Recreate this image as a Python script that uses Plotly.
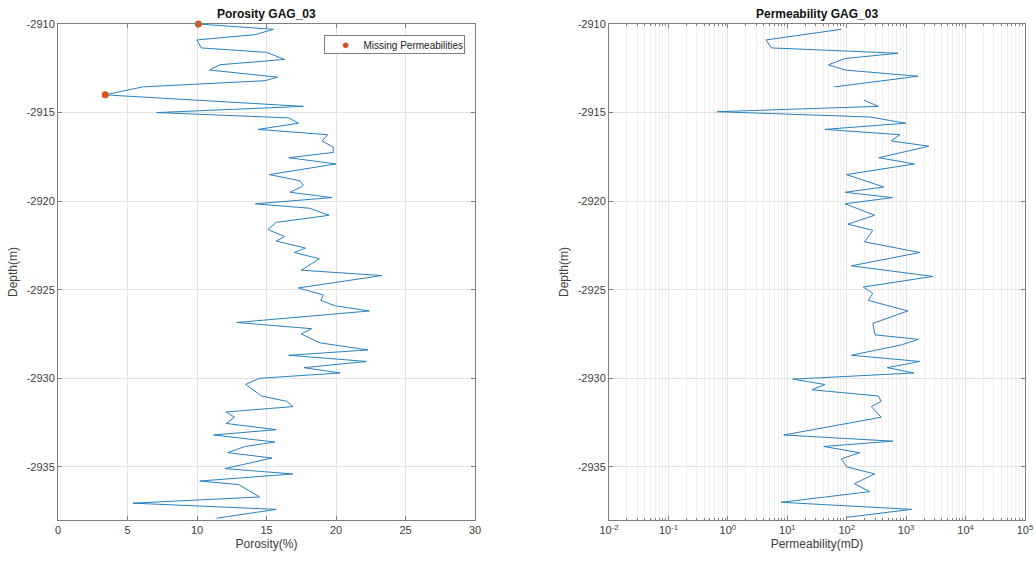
import plotly.graph_objects as go

# Porosity log (depth in m, porosity in %)
por_depth = [-2910.0, -2910.3, -2910.6, -2910.9, -2911.35, -2911.6, -2912.0, -2912.3, -2912.6,
             -2913.0, -2913.2, -2913.55, -2914.0, -2914.65, -2915.0, -2915.3, -2915.6, -2915.95,
             -2916.25, -2916.6, -2916.95, -2917.25, -2917.55, -2917.9, -2918.5, -2918.85, -2919.1,
             -2919.2, -2919.5, -2919.8, -2920.15, -2920.4, -2920.8, -2921.2, -2921.6, -2922.0,
             -2922.25, -2922.65, -2922.9, -2923.25, -2923.9, -2924.2, -2924.9, -2925.3, -2925.6,
             -2925.9, -2926.2, -2926.85, -2927.2, -2927.5, -2928.0, -2928.4, -2928.7, -2929.05,
             -2929.4, -2929.7, -2930.0, -2930.35, -2931.0, -2931.3, -2931.6, -2931.9, -2932.2,
             -2932.55, -2932.9, -2933.2, -2933.6, -2933.85, -2934.2, -2934.5, -2935.1, -2935.4,
             -2935.8, -2936.0, -2936.7, -2937.05, -2937.4, -2937.9]
porosity = [10.1, 15.5, 14.2, 10.0, 10.3, 15.0, 16.3, 11.65, 10.9,
            15.8, 14.9, 6.1, 3.4, 17.65, 7.1, 16.6, 17.3, 14.4,
            19.4, 19.0, 19.8, 19.8, 16.6, 20.0, 15.2, 17.4, 17.65,
            17.5, 16.7, 19.7, 14.2, 18.1, 19.5, 15.7, 15.1, 16.3,
            15.7, 17.8, 17.0, 18.8, 17.5, 23.3, 17.3, 19.1, 18.9,
            19.9, 22.4, 12.85, 18.25, 17.5, 18.85, 22.3, 16.6, 22.2,
            17.7, 20.3, 14.5, 13.5, 14.65, 16.45, 16.9, 12.1, 12.7,
            12.1, 15.7, 11.2, 15.6, 13.45, 12.2, 15.4, 12.0, 16.9,
            10.2, 13.0, 14.5, 5.4, 15.7, 11.4]

# Depths where permeability is missing
miss_depth = [-2910.0, -2914.0]
miss_por = [10.1, 3.4]

# Permeability log (mD); None = missing sample
perm_depth = [-2910.0, -2910.3, -2910.55, -2910.9, -2911.35, -2911.65, -2911.95, -2912.3, -2912.6,
              -2912.95, -2913.55, -2914.0, -2914.3, -2914.65, -2914.95, -2915.25, -2915.6,
              -2915.95, -2916.25, -2916.6, -2916.9, -2917.55, -2917.9, -2918.5, -2919.2,
              -2919.5, -2919.8, -2920.15, -2920.8, -2921.3, -2921.65, -2922.3, -2922.9,
              -2923.65, -2924.25, -2924.85, -2925.2, -2925.6, -2926.2, -2926.9, -2927.55,
              -2927.8, -2928.1, -2928.7, -2929.05, -2929.4, -2929.7, -2930.05, -2930.35,
              -2930.65, -2931.0, -2931.3, -2931.6, -2932.2, -2933.2, -2933.55, -2933.85,
              -2934.2, -2934.55, -2935.0, -2935.4, -2935.95, -2936.4, -2937.0, -2937.4, -2937.85]
permeability = [None, 81, 26, 4.4, 5.4, 730, 94, 49, 94,
                1580, 62, None, 195, 340, 0.66, 245, 980,
                43, 780, 560, 2400, 345, 1380, 99, 420,
                94, 590, 94, 295, 105, 275, 200, 1700,
                120, 2800, 190, 275, 230, 1070, 275, 300,
                1600, 870, 120, 1700, 480, 1350, 12.3, 43,
                26, 340, 380, 260, 380, 8.7, 600, 41,
                165, 81, 100, 295, 135, 245, 7.9, 1230, 100]

depth_ticks = [-2935, -2930, -2925, -2920, -2915, -2910]
depth_ticktext = ["-2935", "-2930", "-2925", "-2920", "-2915", "-2910"]
por_ticks = [0, 5, 10, 15, 20, 25, 30]
perm_tick_exp = [-2, -1, 0, 1, 2, 3, 4, 5]
legend_label = "Missing Permeabilities"

LINE = "#2a80bd"
ORANGE = "#D95319"
AXC = "#808080"
GRID = "#e3e3e3"
TXT = "#404040"
FONT = "Arial, Liberation Sans, sans-serif"

FW, FH = 1036, 561
PL, PR, PT, PB = 58, 1025, 24, 520   # plot-area edges in px
W = PR - PL
H = PB - PT

fig = go.Figure()
fig.add_trace(go.Scatter(x=porosity, y=por_depth, mode="lines",
                         line=dict(color=LINE, width=1), showlegend=False,
                         xaxis="x", yaxis="y"))
fig.add_trace(go.Scatter(x=miss_por, y=miss_depth, mode="markers",
                         marker=dict(color=ORANGE, size=7), cliponaxis=False,
                         name=legend_label, showlegend=False,
                         xaxis="x", yaxis="y"))
fig.add_trace(go.Scatter(x=permeability, y=perm_depth, mode="lines",
                         line=dict(color=LINE, width=1), showlegend=False,
                         connectgaps=False, xaxis="x2", yaxis="y2"))

common_axis = dict(showline=True, linecolor=AXC, linewidth=1, mirror="allticks",
                   ticks="inside", ticklen=4, tickcolor=AXC, showgrid=True,
                   gridcolor=GRID, gridwidth=1, zeroline=False, automargin=False,
                   tickfont=dict(family=FONT, size=11, color=TXT))
title_font = dict(size=12, family=FONT, color=TXT)

d1 = [0, (475 - PL) / W]
d2 = [(609 - PL) / W, 1]

fig.update_layout(
    width=FW, height=FH,
    margin=dict(l=PL, r=FW - PR, t=PT, b=FH - PB),
    paper_bgcolor="white", plot_bgcolor="white",
    font=dict(family=FONT, size=11, color=TXT),
    showlegend=False,
    xaxis=dict(domain=d1, range=[0, 30], tickvals=por_ticks, anchor="y",
               title=dict(text="Porosity(%)", font=title_font, standoff=4),
               **common_axis),
    yaxis=dict(domain=[0, 1], range=[-2938, -2910], tickvals=depth_ticks,
               ticktext=depth_ticktext, anchor="x",
               title=dict(text="Depth(m)", font=title_font, standoff=6),
               **common_axis),
    xaxis2=dict(domain=d2, type="log", range=[-2, 5], anchor="y2",
                tickvals=[10 ** e for e in perm_tick_exp],
                ticktext=["10<sup>%d</sup>" % e for e in perm_tick_exp],
                minor=dict(ticks="inside", ticklen=2, tickcolor=AXC, showgrid=True,
                           gridcolor="#f0f0f0", dtick="D1"),
                title=dict(text="Permeability(mD)", font=title_font, standoff=4),
                **common_axis),
    yaxis2=dict(domain=[0, 1], range=[-2938, -2910], tickvals=depth_ticks,
                ticktext=depth_ticktext, anchor="x2",
                title=dict(text="Depth(m)", font=title_font, standoff=6),
                **common_axis),
    annotations=[
        dict(text="<b>Porosity GAG_03</b>", x=sum(d1) / 2, y=1, xref="paper", yref="paper",
             xanchor="center", yanchor="bottom", showarrow=False, yshift=1,
             font=dict(family=FONT, size=12, color="#111111")),
        dict(text="<b>Permeability GAG_03</b>", x=sum(d2) / 2, y=1, xref="paper", yref="paper",
             xanchor="center", yanchor="bottom", showarrow=False, yshift=1,
             font=dict(family=FONT, size=12, color="#111111")),
        # legend box
        dict(text=("<span style='color:%s;font-size:13px'>●</span>"
                   "&nbsp;&nbsp;&nbsp;&nbsp;&nbsp;%s" % (ORANGE, legend_label)),
             x=(465 - PL) / W, y=1 - (35 - PT) / H, xref="paper", yref="paper",
             xanchor="right", yanchor="top", showarrow=False, align="right",
             width=137, borderpad=1, bordercolor=AXC, borderwidth=1, bgcolor="white",
             font=dict(family=FONT, size=10, color="#222222")),
    ],
)

fig.write_html("out.html",
               config={"displayModeBar": False},
               post_script="document.body.style.margin='0';"
                           "document.body.style.overflow='hidden';")
